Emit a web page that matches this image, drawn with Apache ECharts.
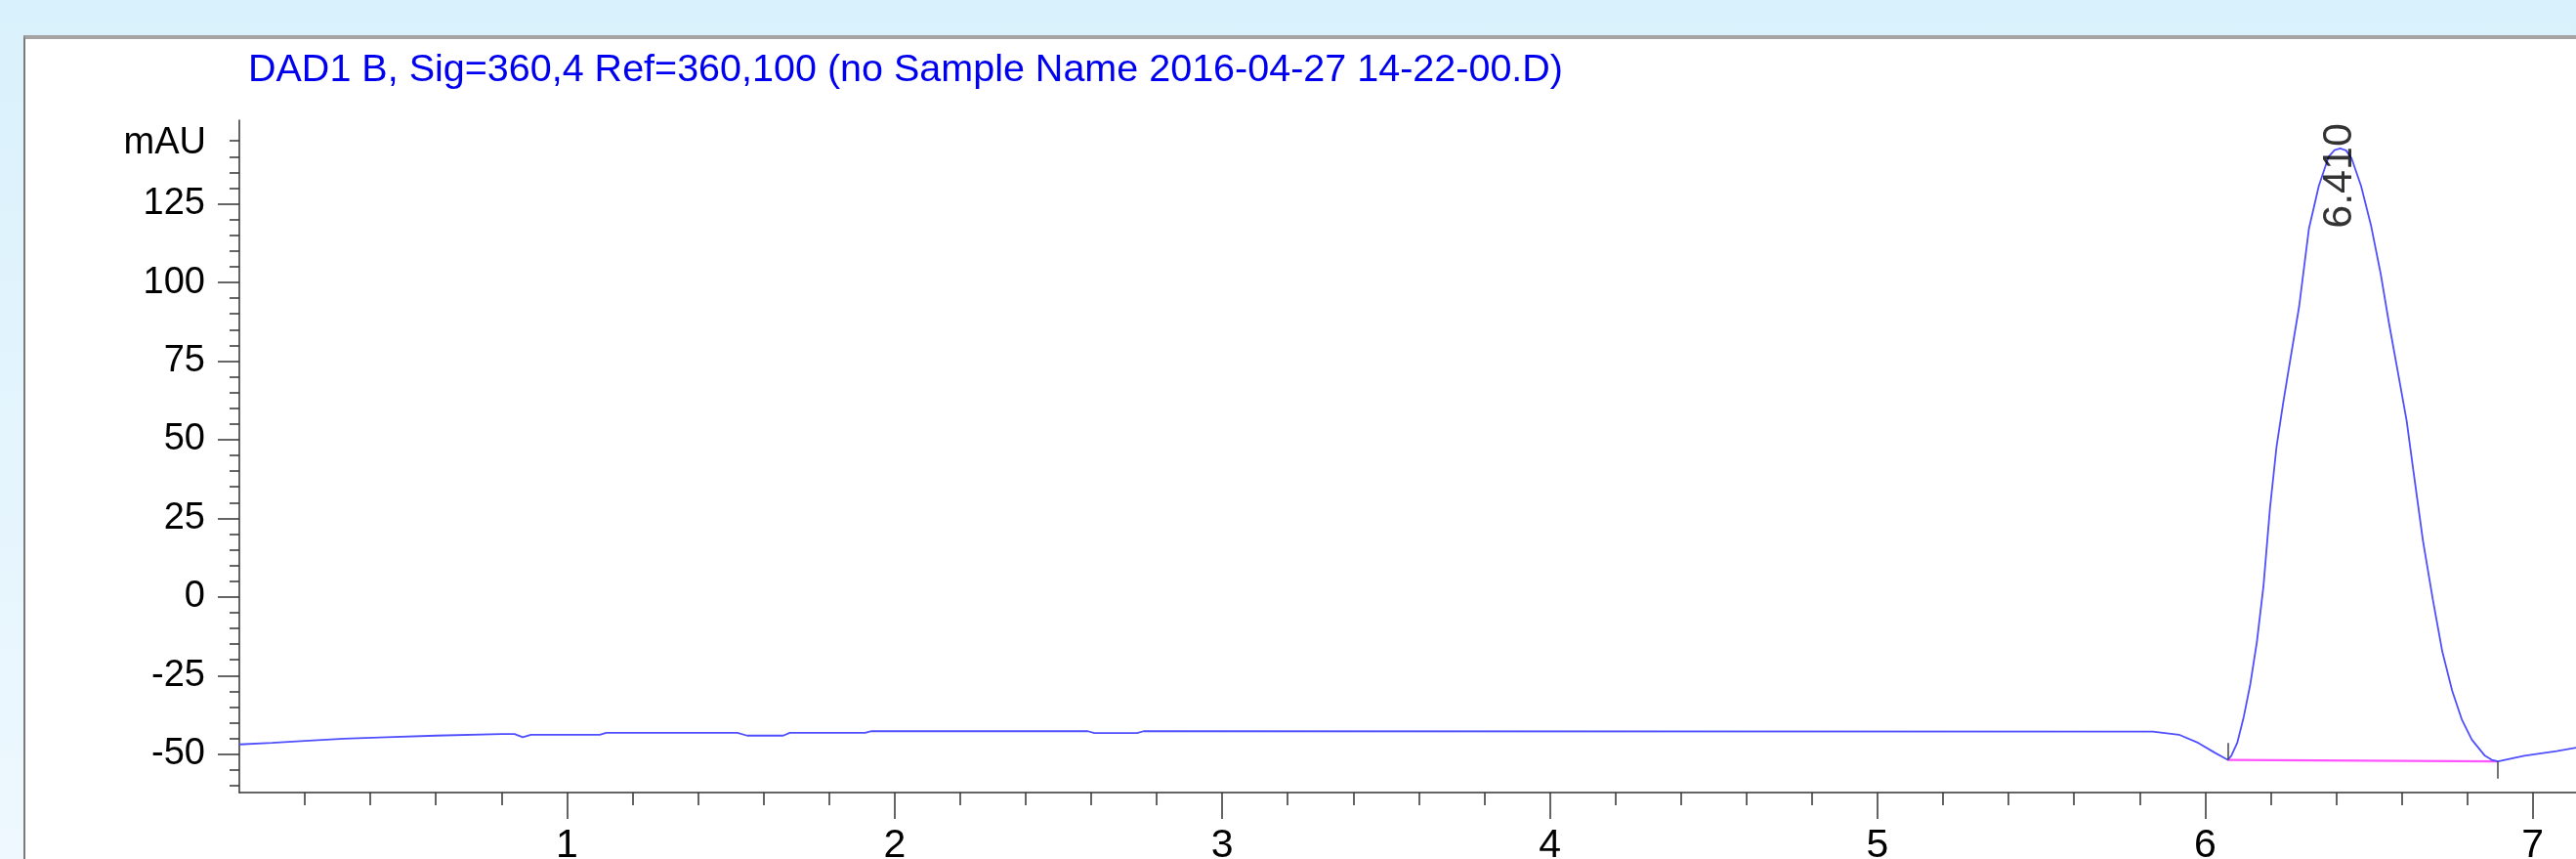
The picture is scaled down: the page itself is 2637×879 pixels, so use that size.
<!DOCTYPE html>
<html>
<head>
<meta charset="utf-8">
<title>DAD1 B chromatogram</title>
<script src="https://cdn.jsdelivr.net/npm/echarts@6/dist/echarts.min.js"></script>
<style>
  html, body { margin: 0; padding: 0; }
  body {
    width: 2637px; height: 879px; overflow: hidden; position: relative;
    background: linear-gradient(to bottom, #d9f1fc, #eef8fe);
  }
  #panel {
    position: absolute; left: 24px; top: 36px; right: 0; bottom: 0;
    background: #fff;
    border-top: 4px solid #a4a4a4;
    border-left: 2px solid #7a7a7a;
  }
  #chart { position: absolute; left: 0; top: 0; width: 2637px; height: 879px; }
</style>
</head>
<body>
<div id="panel"></div>
<div id="chart"></div>
<script>
// 數據 (retention time in min, signal in mAU)
const titleText = 'DAD1 B, Sig=360,4 Ref=360,100 (no Sample Name 2016-04-27 14-22-00.D)';
const timeMin = [
  0, 0.1, 0.2, 0.32, 0.45, 0.6, 0.8, 0.84, 0.865, 0.89, 1.1, 1.12, 1.52, 1.55, 1.66, 1.68,
  1.91, 1.93, 2.59, 2.61, 2.74, 2.76, 5.84, 5.92, 5.979, 6.029, 6.069, 6.08, 6.098, 6.118,
  6.138, 6.158, 6.178, 6.198, 6.218, 6.238, 6.254, 6.287, 6.317, 6.347, 6.377, 6.395, 6.412,
  6.43, 6.447, 6.476, 6.506, 6.536, 6.561, 6.588, 6.615, 6.635, 6.665, 6.695, 6.724, 6.754,
  6.784, 6.814, 6.854, 6.875, 6.894, 6.974, 7.073, 7.133
];
const signalMAU = [
  -46.9, -46.4, -45.8, -45.1, -44.6, -44.1, -43.6, -43.6, -44.6, -43.8, -43.8, -43.2, -43.2, -44.1, -44.1, -43.2,
  -43.2, -42.7, -42.7, -43.3, -43.3, -42.7, -42.8, -43.8, -46.4, -49.5, -51.8, -50.5, -46.4, -38.1,
  -27.7, -14.3, 3.3, 28.2, 47.8, 61.5, 71.7, 92.4, 117.2, 130.7, 140, 142.1, 142.6,
  142.0, 139.5, 130.7, 118.3, 102.7, 87.2, 71.7, 56.1, 40.6, 17.8, -0.8, -17.4, -29.8,
  -39.1, -45.4, -50.5, -51.8, -52.3, -50.5, -49, -47.9
];
// 積分基線 (magenta) 和起止標記
const baselineTime = [6.069, 6.894];
const baselineMAU = [-51.8, -52.3];
const markTime = [6.069, 6.894];
const markFrom = [-46.4, -52.3];
const markTo = [-51.8, -57.8];
// 峰標籤
const peakTime = 6.41;
const peakApex = 142.6;
const peakLabel = '6.410';
// 刻度
const xTickLabels = [1, 2, 3, 4, 5, 6, 7];
const yTickLabels = [-50, -25, 0, 25, 50, 75, 100, 125];

const xMin = 0, xMax = 7.132;
const yMin = -62.2, yMax = 151.6;

const xMinor = [];
for (let i = 1; i < 36; i++) if (i % 5 !== 0) xMinor.push(i / 5);
const yMinor = [];
for (let i = -12; i <= 30; i++) if (i % 5 !== 0) yMinor.push(i * 5);

const font = "'Liberation Sans', Arial, sans-serif";
const axisColor = '#333';

const chartDom = document.getElementById('chart');
const myChart = echarts.init(chartDom);

const option = {
  animation: false,
  backgroundColor: 'transparent',
  title: {
    text: titleText,
    left: 254,
    top: 52,
    padding: 0,
    textStyle: { color: '#0000f0', fontSize: 39.5, fontWeight: 'normal', fontFamily: font }
  },
  grid: { left: 245, right: 0, top: 123, bottom: 68, outerBoundsMode: 'none', containLabel: false },
  xAxis: [
    {
      type: 'value', min: xMin, max: xMax,
      axisLine: { onZero: false, lineStyle: { color: axisColor, width: 1.5 } },
      axisTick: { customValues: xTickLabels, length: 27, lineStyle: { color: axisColor, width: 1.5 } },
      axisLabel: { customValues: xTickLabels, margin: 34, color: '#000', fontSize: 41, fontFamily: font },
      splitLine: { show: false }
    },
    {
      type: 'value', min: xMin, max: xMax, position: 'bottom',
      axisLine: { show: false, onZero: false },
      axisTick: { customValues: xMinor, length: 13, lineStyle: { color: axisColor, width: 1.5 } },
      axisLabel: { show: false },
      splitLine: { show: false }
    }
  ],
  yAxis: [
    {
      type: 'value', min: yMin, max: yMax,
      name: 'mAU', nameLocation: 'end', nameGap: -24,
      nameTextStyle: { align: 'right', verticalAlign: 'middle', padding: [0, 34, 0, 0], color: '#000', fontSize: 38, fontFamily: font },
      axisLine: { show: true, onZero: false, lineStyle: { color: axisColor, width: 1.5 } },
      axisTick: { customValues: yTickLabels, length: 22, lineStyle: { color: axisColor, width: 1.5 } },
      axisLabel: { customValues: yTickLabels, margin: 35, color: '#000', fontSize: 38, fontFamily: font },
      splitLine: { show: false }
    },
    {
      type: 'value', min: yMin, max: yMax, position: 'left',
      axisLine: { show: false, onZero: false },
      axisTick: { customValues: yMinor, length: 10, lineStyle: { color: axisColor, width: 1.5 } },
      axisLabel: { show: false },
      splitLine: { show: false }
    }
  ],
  series: [
    {
      type: 'line',
      data: timeMin.map((t, i) => [t, signalMAU[i]]),
      showSymbol: false,
      lineStyle: { color: '#4f4fff', width: 1.8 },
      z: 3
    },
    {
      type: 'line',
      data: baselineTime.map((t, i) => [t, baselineMAU[i]]),
      showSymbol: false,
      lineStyle: { color: '#ff55ff', width: 2.2 },
      z: 2,
      markLine: {
        silent: true,
        symbol: 'none',
        label: { show: false },
        lineStyle: { color: '#444', width: 1.5, type: 'solid' },
        data: markTime.map((t, i) => [{ coord: [t, markFrom[i]] }, { coord: [t, markTo[i]] }])
      }
    },
    {
      type: 'scatter',
      data: [[peakTime, peakApex]],
      symbolSize: 0,
      z: 4,
      label: {
        show: true,
        formatter: peakLabel,
        rotate: 90,
        position: 'inside',
        offset: [-28, 0],
        color: '#000',
        fontSize: 43,
        fontFamily: font
      }
    }
  ]
};

option && myChart.setOption(option);
</script>
</body>
</html>
